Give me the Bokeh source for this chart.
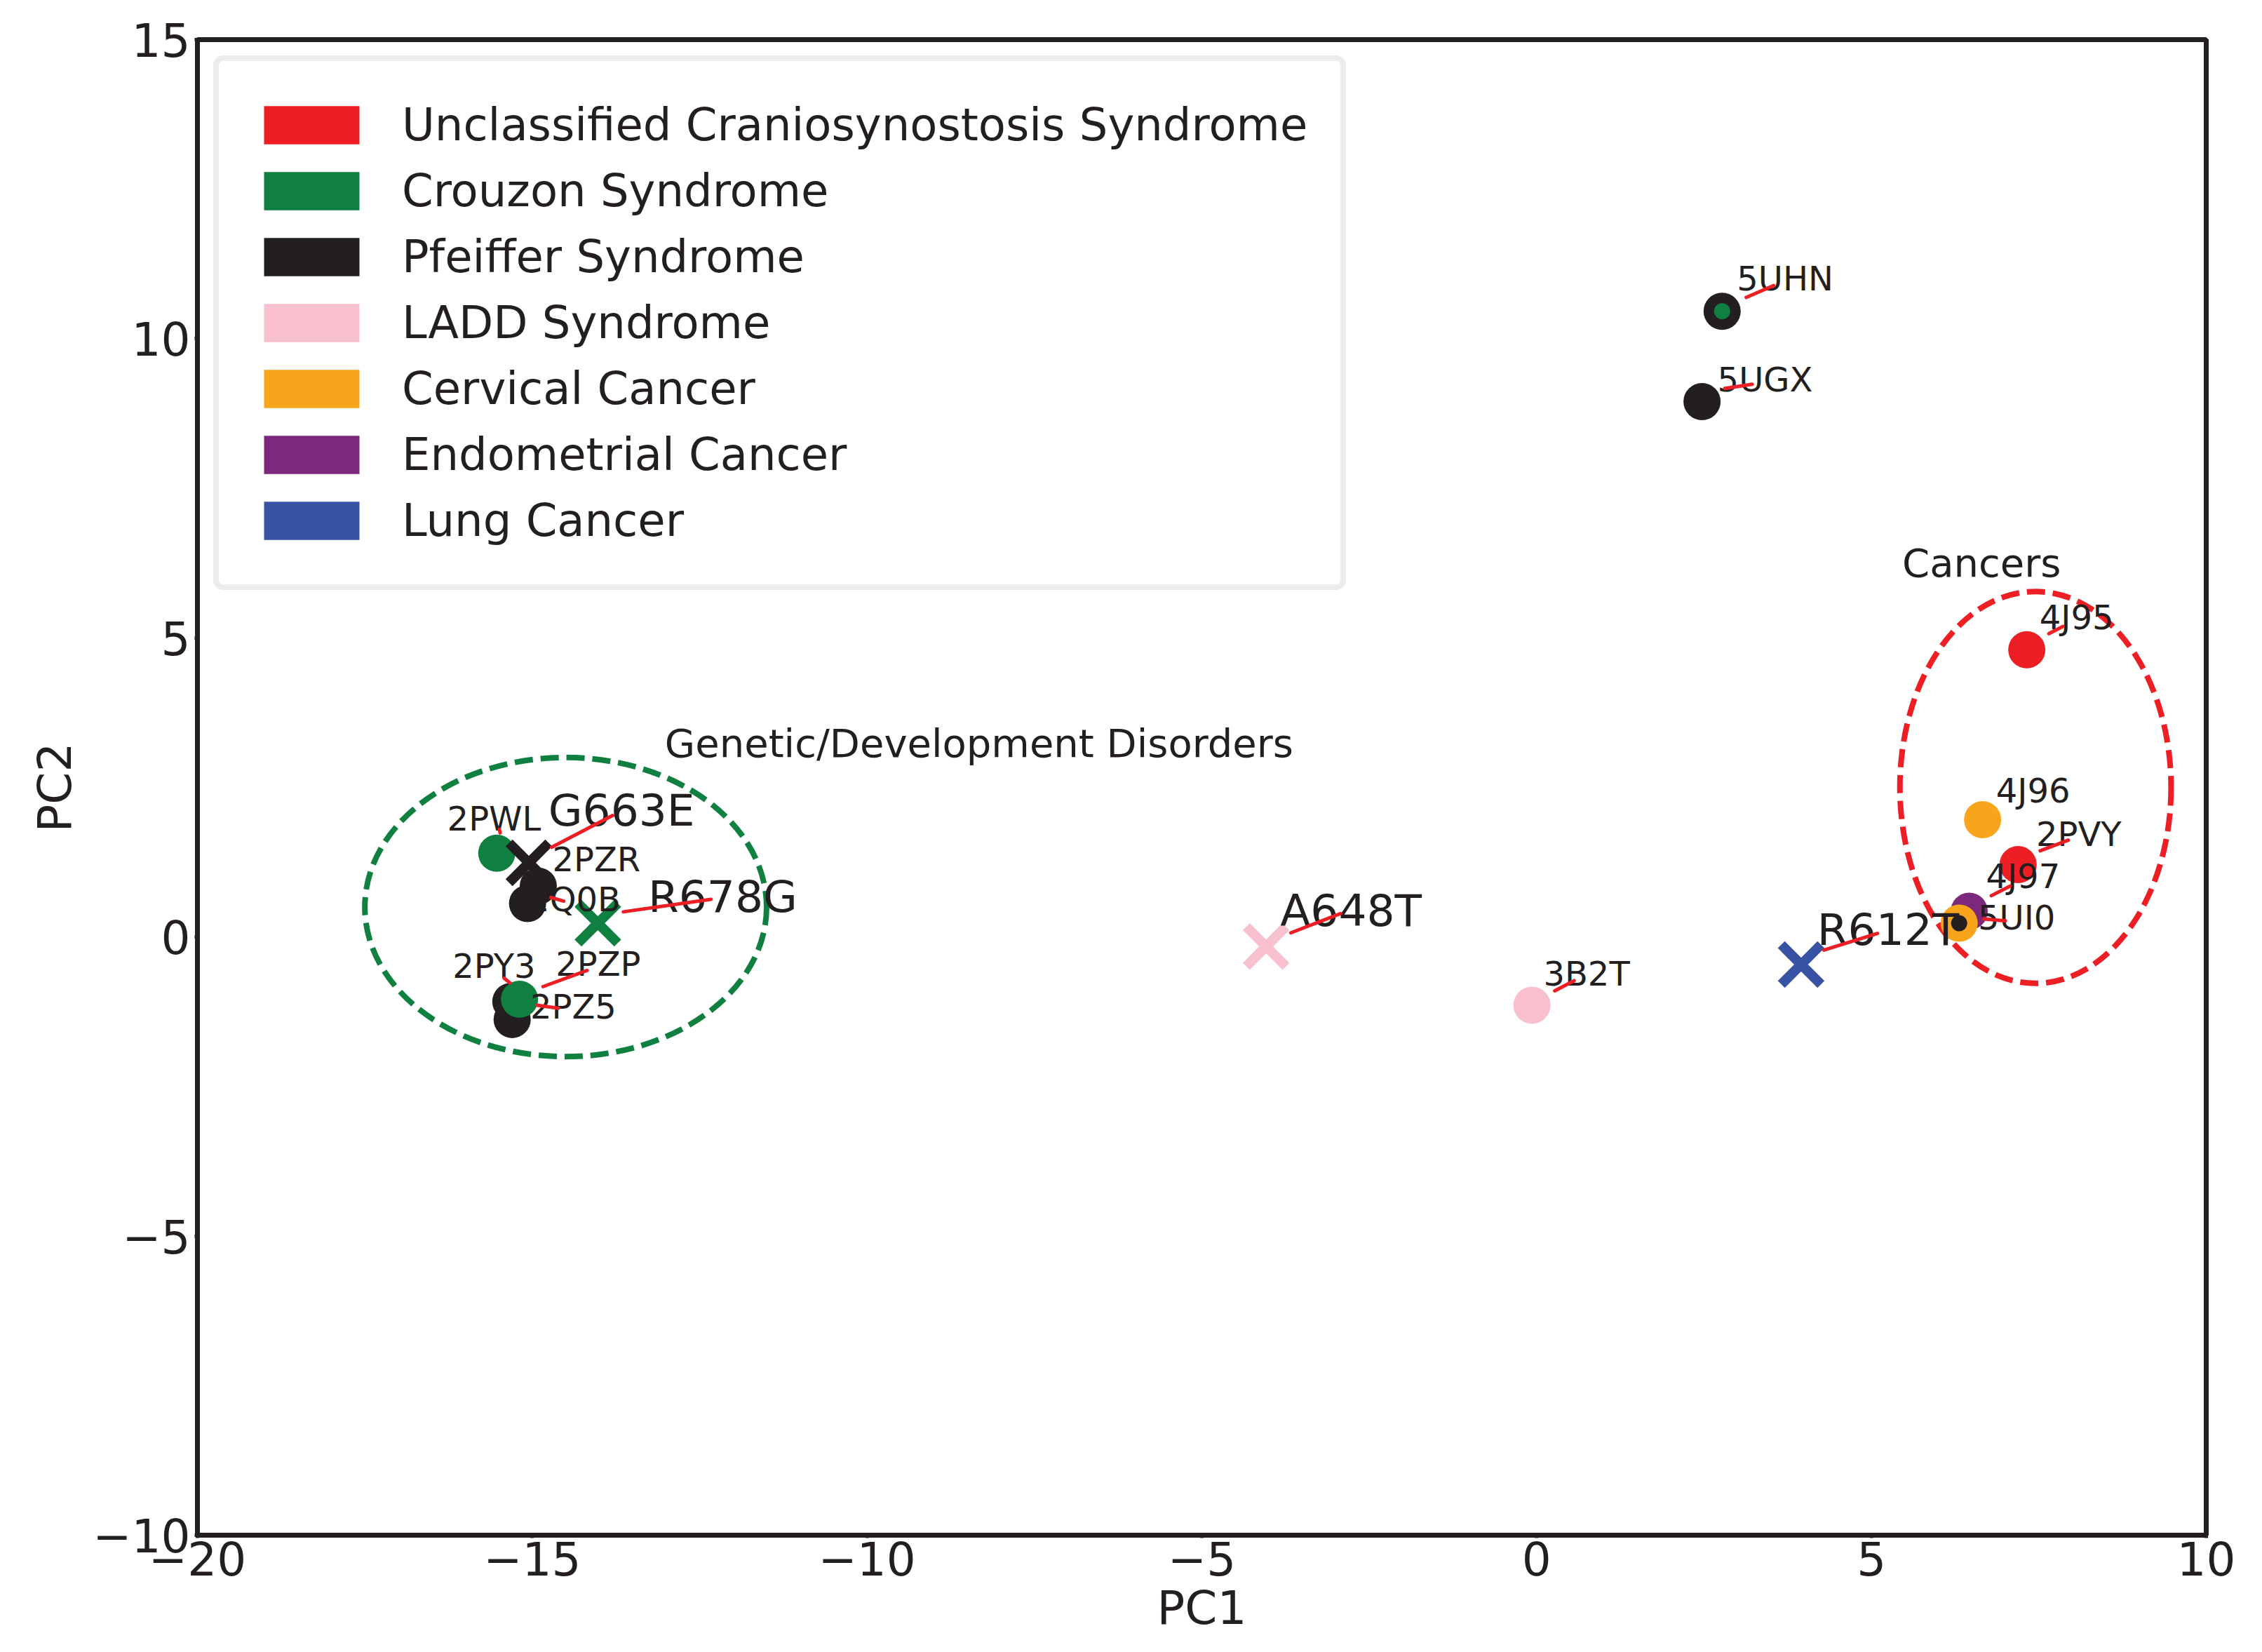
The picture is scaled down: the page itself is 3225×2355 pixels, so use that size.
from bokeh.plotting import figure
from bokeh.models import ColumnDataSource, FixedTicker
from bokeh.embed import file_html
from bokeh.resources import INLINE
from bokeh.core.properties import value

FONT = "DejaVu Sans"
INK = "#231f20"
LINK = "#ee1e25"

# ---- categories / legend ----
categories = ["Unclassified Craniosynostosis Syndrome", "Crouzon Syndrome", "Pfeiffer Syndrome",
              "LADD Syndrome", "Cervical Cancer", "Endometrial Cancer", "Lung Cancer"]
category_colors = ["#ee1e25", "#0f8040", "#231f20", "#f8c0cd", "#f9a51b", "#7c287c", "#3953a4"]

# ---- structures (circles) ----
struct_names = ["5UHN", "5UGX", "4J95", "4J96", "2PVY", "4J97", "5UI0", "3B2T",
                "2PWL", "2PZR", "2Q0B", "2PY3", "2PZP", "2PZ5"]
struct_pc1 = [2.77, 2.47, 7.32, 6.66, 7.19, 6.46, 6.31, -0.07,
              -15.53, -14.91, -15.07, -15.32, -15.19, -15.30]
struct_pc2 = [10.46, 8.95, 4.80, 1.96, 1.21, 0.43, 0.23, -1.14,
              1.40, 0.85, 0.56, -1.08, -1.04, -1.38]
struct_cat = ["Pfeiffer Syndrome", "Pfeiffer Syndrome", "Unclassified Craniosynostosis Syndrome",
              "Cervical Cancer", "Unclassified Craniosynostosis Syndrome", "Endometrial Cancer",
              "Cervical Cancer", "LADD Syndrome", "Crouzon Syndrome", "Pfeiffer Syndrome",
              "Pfeiffer Syndrome", "Pfeiffer Syndrome", "Crouzon Syndrome", "Pfeiffer Syndrome"]

# secondary classification drawn as inner dot
inner_names = ["5UHN", "5UI0"]
inner_cat = ["Crouzon Syndrome", "Pfeiffer Syndrome"]

# ---- mutations (crosses) ----
mut_names = ["G663E", "R678G", "A648T", "R612T"]
mut_pc1 = [-15.05, -14.02, -4.04, 3.95]
mut_pc2 = [1.24, 0.23, -0.16, -0.46]
mut_cat = ["Pfeiffer Syndrome", "Crouzon Syndrome", "LADD Syndrome", "Lung Cancer"]

# ---- group outlines ----
group_names = ["Genetic/Development Disorders", "Cancers"]
group_cx = [-14.5, 7.45]
group_cy = [0.5, 2.5]
group_w = [6.0, 4.05]
group_h = [5.0, 6.55]
group_colors = ["#0f8040", "#ee1e25"]

# ---- label layout (left / baseline anchors, connector ends) ----
struct_lx = [2.99, 2.70, 7.51, 6.86, 7.46, 6.71, 6.59, 0.10, -16.27, -14.70, -15.06, -16.19, -14.65, -15.03]
struct_ly = [10.80, 9.11, 5.13, 2.24, 1.51, 0.81, 0.11, -0.82, 1.77, 1.09, 0.42, -0.69, -0.66, -1.37]
mut_lx = [-14.76, -13.27, -3.83, 4.19]
mut_ly = [1.90, 0.46, 0.23, -0.09]
group_lx = [-13.02, 5.46]
group_ly = [3.03, 6.04]

link_x0 = [3.13, 2.81, 7.65, 7.52, 6.79, 6.68, 0.27, -15.48, -14.72, -15.42, -14.84, -14.93,
           -14.71, -13.64, -3.67, 4.29]
link_y0 = [10.69, 9.17, 5.07, 1.44, 0.69, 0.30, -0.90, 1.74, 0.66, -0.69, -0.83, -1.14,
           1.50, 0.42, 0.07, -0.22]
link_x1 = [3.54, 3.22, 7.86, 7.94, 7.07, 7.00, 0.56, -15.49, -14.53, -15.33, -14.18, -14.61,
           -13.80, -12.33, -2.93, 5.09]
link_y1 = [10.89, 9.24, 5.19, 1.62, 0.85, 0.27, -0.73, 1.80, 0.60, -0.77, -0.56, -1.19,
           2.03, 0.63, 0.39, 0.06]

x_ticks = [-20, -15, -10, -5, 0, 5, 10]
y_ticks = [-10, -5, 0, 5, 10, 15]

color_of = dict(zip(categories, category_colors))

p = figure(width=3209, height=2339, x_range=(-20, 10), y_range=(-10, 15),
           output_backend="svg", toolbar_location=None,
           min_border_left=281, min_border_right=64, min_border_top=56, min_border_bottom=151)
p.background_fill_color = "white"
p.border_fill_color = "white"
p.grid.visible = False
p.outline_line_color = INK
p.outline_line_width = 7

for ax in (p.xaxis[0], p.yaxis[0]):
    ax.axis_line_color = INK
    ax.axis_line_width = 7
    ax.major_tick_line_color = INK
    ax.major_tick_line_width = 5
    ax.major_tick_out = 4
    ax.major_tick_in = 0
    ax.minor_tick_line_color = None
    ax.major_label_text_font = FONT
    ax.major_label_text_font_size = "66px"
    ax.major_label_text_color = INK
    ax.axis_label_text_font = FONT
    ax.axis_label_text_font_size = "66px"
    ax.axis_label_text_font_style = "normal"
    ax.axis_label_text_color = INK

p.xaxis.ticker = FixedTicker(ticks=x_ticks)
p.yaxis.ticker = FixedTicker(ticks=y_ticks)
p.xaxis.major_label_overrides = {t: str(t).replace("-", "\u2212") for t in x_ticks}
p.yaxis.major_label_overrides = {t: str(t).replace("-", "\u2212") for t in y_ticks}
p.xaxis.axis_label = "PC1"
p.yaxis.axis_label = "PC2"
p.xaxis.major_label_standoff = 4
p.yaxis.major_label_standoff = 6
p.xaxis.axis_label_standoff = 5
p.yaxis.axis_label_standoff = 12

# legend patches (proxy quads outside any drawn area, one per category)
nan = float("nan")
for cat, col in zip(categories, category_colors):
    p.quad(left=[nan], right=[nan], top=[nan], bottom=[nan], fill_color=col, line_color=None,
           legend_label=cat)

# group ellipses
p.ellipse(x=group_cx, y=group_cy, width=group_w, height=group_h, fill_color=None,
          line_color=group_colors, line_width=8, line_dash="26 11")

# structures: Pfeiffer first so coloured points sit on top
order = sorted(range(len(struct_names)), key=lambda i: 0 if struct_cat[i] == "Pfeiffer Syndrome" else 1)
src = ColumnDataSource(dict(
    x=[struct_pc1[i] for i in order],
    y=[struct_pc2[i] for i in order],
    color=[color_of[struct_cat[i]] for i in order]))
p.scatter("x", "y", source=src, marker="circle", size=53, fill_color="color", line_color=None)

idx = {n: i for i, n in enumerate(struct_names)}
inner_src = ColumnDataSource(dict(
    x=[struct_pc1[idx[n]] for n in inner_names],
    y=[struct_pc2[idx[n]] for n in inner_names],
    color=[color_of[c] for c in inner_cat]))
p.scatter("x", "y", source=inner_src, marker="circle", size=23, fill_color="color", line_color=None)

mut_src = ColumnDataSource(dict(x=mut_pc1, y=mut_pc2, color=[color_of[c] for c in mut_cat]))
p.scatter("x", "y", source=mut_src, marker="x", size=80, line_color="color", line_width=14)

# labels (baseline correction of the renderer: lift by 18 px)
TXT = dict(text_font=value(FONT), text_color=INK, text_align="left", text_baseline="alphabetic",
           y_offset=-18)
p.text(x=struct_lx, y=struct_ly, text=struct_names, text_font_size="48px", **TXT)
p.text(x=mut_lx, y=mut_ly, text=mut_names, text_font_size="63px", **TXT)
p.text(x=group_lx, y=group_ly, text=group_names, text_font_size="56px", **TXT)

p.segment(x0=link_x0, y0=link_y0, x1=link_x1, y1=link_y1, line_color=LINK, line_width=5,
          line_cap="round")

lg = p.legend[0]
lg.location = "top_left"
lg.margin = 23
lg.padding = 47
lg.glyph_width = 170
lg.glyph_height = 68
lg.label_height = 88
lg.label_standoff = 44
lg.spacing = 6
lg.label_text_font = FONT
lg.label_text_font_size = "64px"
lg.label_text_color = INK
lg.border_line_color = "#d9dadb"
lg.border_line_width = 8
lg.background_fill_color = "white"
lg.background_fill_alpha = 1.0
if "border_radius" in lg.properties():
    lg.border_radius = 14

open("out.html", "w").write(file_html(p, INLINE))
